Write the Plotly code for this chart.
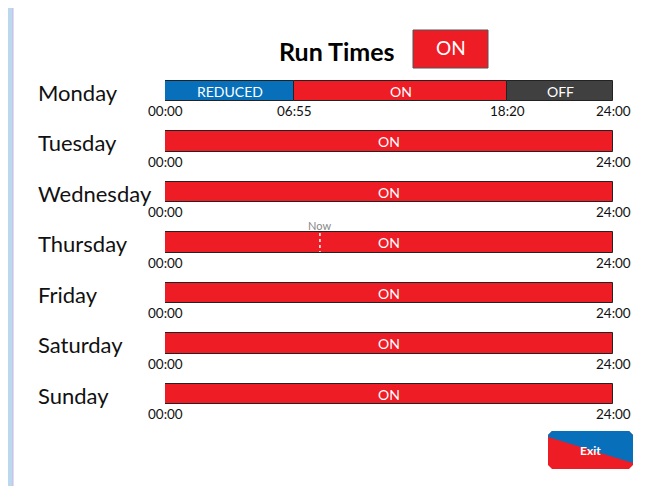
import plotly.graph_objects as go

# ---------------- data ----------------
days = ["Monday", "Tuesday", "Wednesday", "Thursday", "Friday", "Saturday", "Sunday"]
# segments per day: (start_hour, end_hour, mode)
seg_start = [[0.0, 6 + 55 / 60, 18 + 20 / 60], [0.0], [0.0], [0.0], [0.0], [0.0], [0.0]]
seg_end = [[6 + 55 / 60, 18 + 20 / 60, 24.0], [24.0], [24.0], [24.0], [24.0], [24.0], [24.0]]
seg_mode = [["REDUCED", "ON", "OFF"], ["ON"], ["ON"], ["ON"], ["ON"], ["ON"], ["ON"]]
tick_labels = [["00:00", "06:55", "18:20", "24:00"]] + [["00:00", "24:00"]] * 6
tick_hours = [[0.0, 6 + 55 / 60, 18 + 20 / 60, 24.0]] + [[0.0, 24.0]] * 6
now_day = "Thursday"
now_hour = 8.3
current_mode = "ON"

mode_colors = {"REDUCED": "#0870BA", "ON": "#EE1C25", "OFF": "#404040"}
FONT = "Lato, 'Open Sans', sans-serif"

OFF = 8                    # page body margin
W, H = 669, 486
L, R = 165 - OFF, 613 - OFF            # pixel span of 0..24 h (figure coords)
T, B = 60 - OFF, 440 - OFF             # plot area top / bottom
row0, rowstep = 91 - OFF, 50.5
y_top = -(row0 - T) / rowstep
y_bot = (B - row0) / rowstep


def px(x):
    # x given in window pixels
    return (x - OFF - L) / (R - L)


def py(y):
    return (B - (y - OFF)) / (B - T)


fig = go.Figure()

# bars
for i, d in enumerate(days):
    for s, e, m in zip(seg_start[i], seg_end[i], seg_mode[i]):
        fig.add_trace(go.Bar(
            y=[i], x=[e - s], base=[s], orientation="h", width=0.40,
            marker=dict(color=mode_colors[m], line=dict(color="#222222", width=1)),
            showlegend=False, hoverinfo="skip",
        ))
        fig.add_annotation(x=(s + e) / 2, y=i, text=m, showarrow=False,
                           font=dict(family=FONT, size=14, color="white"),
                           xanchor="center", yanchor="middle")
    # day label
    fig.add_annotation(x=0, y=i, text=d, showarrow=False, xanchor="left",
                       xshift=-129, yshift=-1, yanchor="middle",
                       font=dict(family=FONT, size=22, color="#111111"))
    # time labels
    for h, t in zip(tick_hours[i], tick_labels[i]):
        fig.add_annotation(x=h, y=i + 0.40, text=t, showarrow=False,
                           xanchor="center", yanchor="middle",
                           font=dict(family=FONT, size=13.5, color="#111111"))

# now marker
ni = days.index(now_day)
fig.add_trace(go.Scatter(x=[now_hour, now_hour], y=[ni - 0.19, ni + 0.19], mode="lines",
                         line=dict(color="white", width=1.5, dash="dot"),
                         showlegend=False, hoverinfo="skip"))
fig.add_annotation(x=now_hour, y=ni - 0.33, text="Now", showarrow=False,
                   xanchor="center", yanchor="middle",
                   font=dict(family=FONT, size=11, color="#888888"))

shapes = []
# white panel
shapes.append(dict(type="rect", xref="paper", yref="paper", layer="below",
                   x0=px(13), x1=px(664), y0=py(500), y1=py(3.5),
                   fillcolor="white", line=dict(color="#C9B8E8", width=1)))
# ON status box
shapes.append(dict(type="rect", xref="paper", yref="paper",
                   x0=px(413), x1=px(488), y0=py(68), y1=py(30),
                   fillcolor=mode_colors["ON"], line=dict(color="#555555", width=1)))
# Exit button: red base (rounded) and blue triangle
bx0, bx1, by0, by1 = 548, 633, 431, 469
r = 4


def pth(points):
    return "M " + " L ".join(f"{px(x)},{py(y)}" for x, y in points) + " Z"


shapes.append(dict(type="path", xref="paper", yref="paper",
                   path=pth([(bx0 + r, by0), (bx1 - r, by0), (bx1, by0 + r), (bx1, by1 - r),
                             (bx1 - r, by1), (bx0 + r, by1), (bx0, by1 - r), (bx0, by0 + r)]),
                   fillcolor=mode_colors["ON"], line=dict(width=0)))
shapes.append(dict(type="path", xref="paper", yref="paper",
                   path=pth([(bx0, 437), (bx0, by0 + r), (bx0 + r, by0), (bx1 - r, by0),
                             (bx1, by0 + r), (bx1, 463)]),
                   fillcolor="#0870BA", line=dict(width=0)))

fig.add_annotation(xref="paper", yref="paper", x=px(337), y=py(51), text="<b>Run Times</b>",
                   showarrow=False, xanchor="center", yanchor="middle",
                   font=dict(family=FONT, size=25, color="black"))
fig.add_annotation(xref="paper", yref="paper", x=px(450.5), y=py(48), text=current_mode,
                   showarrow=False, xanchor="center", yanchor="middle",
                   font=dict(family=FONT, size=19, color="white"))
fig.add_annotation(xref="paper", yref="paper", x=px(590.5), y=py(450), text="<b>Exit</b>",
                   showarrow=False, xanchor="center", yanchor="middle",
                   font=dict(family=FONT, size=12, color="white"))

fig.update_layout(
    width=W, height=H,
    margin=dict(l=L, r=W - R, t=T, b=H - B, pad=0),
    paper_bgcolor="#BCD8EE", plot_bgcolor="rgba(0,0,0,0)",
    barmode="overlay", bargap=0,
    xaxis=dict(range=[0, 24], visible=False, fixedrange=True),
    yaxis=dict(range=[y_bot, y_top], visible=False, fixedrange=True),
    shapes=shapes, showlegend=False,
)

fig.write_html("out.html")
